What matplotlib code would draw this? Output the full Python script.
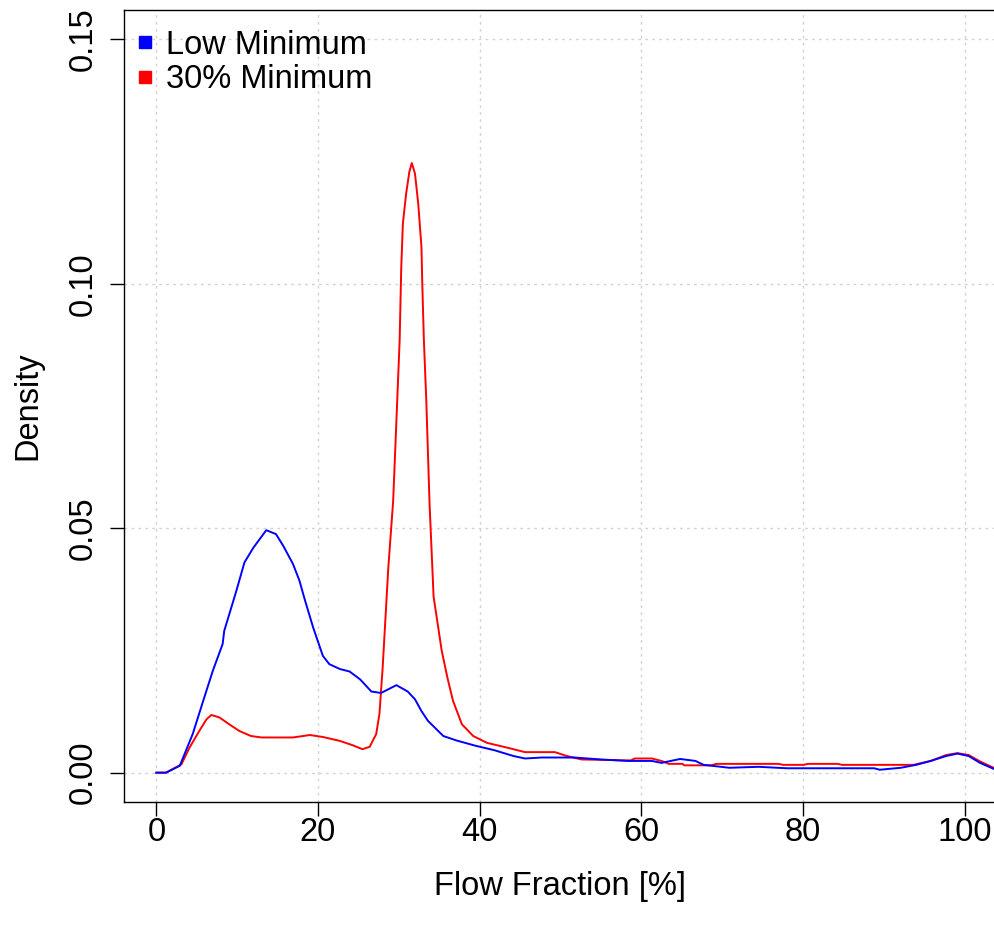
import matplotlib
matplotlib.use("Agg")
import matplotlib.pyplot as plt
from matplotlib.lines import Line2D

plt.rcParams['font.family'] = ['Liberation Sans', 'DejaVu Sans']

# density curves
low_x = [0, 1.2, 2.9, 4.5, 5.8, 7.0, 8.2, 8.4, 9.9, 10.9, 12.0, 13.6, 14.8, 15.7, 16.9,
         17.7, 18.4, 19.4, 20.6, 21.4, 22.7, 23.9, 25.2, 26.6, 27.8, 29.7, 31.1, 32.0,
         32.8, 33.6, 35.5, 37.1, 39.5, 41.8, 44.2, 45.6, 47.7, 51.7, 55.0, 58.3, 61.3,
         62.5, 64.8, 66.7, 67.7, 70.9, 74.5, 78.0, 81.7, 88.8, 89.5, 92.1, 94.0, 95.8,
         97.7, 99.1, 100.5, 101.9, 103.7, 104.5]
low_d = [0, 0, 0.0014, 0.0079, 0.0147, 0.0209, 0.0263, 0.029, 0.0372, 0.043, 0.046, 0.0496,
         0.0488, 0.0464, 0.0427, 0.0393, 0.0352, 0.0297, 0.0239, 0.0222, 0.0212, 0.0207,
         0.0191, 0.0166, 0.0163, 0.0179, 0.0166, 0.0150, 0.0126, 0.0106, 0.0075, 0.0066,
         0.0055, 0.0046, 0.0034, 0.0029, 0.0031, 0.0031, 0.0027, 0.0024, 0.0024, 0.0020,
         0.0028, 0.0024, 0.0016, 0.0010, 0.0012, 0.0009, 0.0009, 0.0009, 0.0006, 0.0010,
         0.0016, 0.0024, 0.0034, 0.0039, 0.0034, 0.0020, 0.0007, 0.0004]

min30_x = [0, 1.2, 3.1, 4.1, 5.3, 6.2, 6.8, 7.8, 9.1, 10.3, 11.7, 13.0, 16.9, 19.0, 20.6,
           22.7, 24.3, 25.5, 26.4, 27.2, 27.6, 28.0, 28.7, 29.3, 30.1, 30.3, 30.5, 30.9,
           31.3, 31.6, 32.0, 32.4, 32.8, 32.9, 33.1, 33.4, 33.8, 34.3, 35.3, 36.0, 36.7,
           37.8, 39.2, 40.9, 43.7, 45.6, 49.3, 50.8, 52.6, 58.7, 59.2, 61.3, 62.5, 63.4,
           65.1, 65.3, 68.6, 69.3, 77.0, 77.5, 80.1, 80.6, 84.3, 84.8, 93.7, 94.2, 95.8,
           97.7, 99.1, 100.5, 101.9, 103.7, 104.5]
min30_d = [0, 0, 0.0017, 0.0051, 0.0085, 0.0109, 0.0118, 0.0113, 0.0098, 0.0085, 0.0075,
           0.0072, 0.0072, 0.0077, 0.0073, 0.0065, 0.0056, 0.0048, 0.0053, 0.0079, 0.012,
           0.0215, 0.042, 0.0556, 0.0884, 0.1034, 0.1123, 0.1184, 0.1229, 0.1247, 0.1225,
           0.1164, 0.1075, 0.1000, 0.0884, 0.076, 0.055, 0.036, 0.025, 0.0195, 0.0147,
           0.0099, 0.0075, 0.0061, 0.0050, 0.0042, 0.0042, 0.0034, 0.0027, 0.0025, 0.0029,
           0.0029, 0.0024, 0.0018, 0.0018, 0.0015, 0.0015, 0.0018, 0.0018, 0.0016, 0.0016,
           0.0018, 0.0018, 0.0016, 0.0016, 0.0018, 0.0024, 0.0036, 0.0040, 0.0036, 0.0023,
           0.0009, 0.0006]

x_ticks = [0, 20, 40, 60, 80, 100]
y_ticks = [0.00, 0.05, 0.10, 0.15]
y_labels = ["0.00", "0.05", "0.10", "0.15"]
series_names = ["Low Minimum", "30% Minimum"]
series_colors = ["blue", "red"]

fs = 23.5
fig = plt.figure(figsize=(9.95, 9.31), dpi=100)
ax = fig.add_axes([124 / 995, 129 / 931, 873 / 995, 792 / 931])

ax.plot(min30_x, min30_d, color="red", lw=1.4)
ax.plot(low_x, low_d, color="blue", lw=1.4)

ax.set_xlim(-4, 104)
ax.set_ylim(-0.006, 0.156)
ax.set_xticks(x_ticks)
ax.set_yticks(y_ticks)
ax.set_yticklabels(y_labels)
ax.grid(True, color="lightgray", linestyle=(0, (2, 3)), linewidth=1)

ax.tick_params(direction="out", length=10, width=1, labelsize=fs, color="black")
ax.tick_params(axis="x", pad=1)
ax.tick_params(axis="y", pad=8)
for lab in ax.get_yticklabels():
    lab.set_rotation(90)
    lab.set_va("center")
for side in ["left", "bottom", "top"]:
    ax.spines[side].set_linewidth(1)
ax.spines["right"].set_visible(False)

ax.set_xlabel("Flow Fraction [%]", fontsize=fs, labelpad=16)
ax.set_ylabel("Density", fontsize=fs, labelpad=18)

handles = [Line2D([], [], marker="s", ls="", color=c, markersize=9) for c in series_colors]
ax.legend(handles, series_names, loc="upper left", bbox_to_anchor=(0.0128, 0.975),
          frameon=False, fontsize=fs, borderaxespad=0, borderpad=0,
          handlelength=0.6, handletextpad=0.34, labelspacing=0.11)

fig.savefig("out.png", dpi=100)
